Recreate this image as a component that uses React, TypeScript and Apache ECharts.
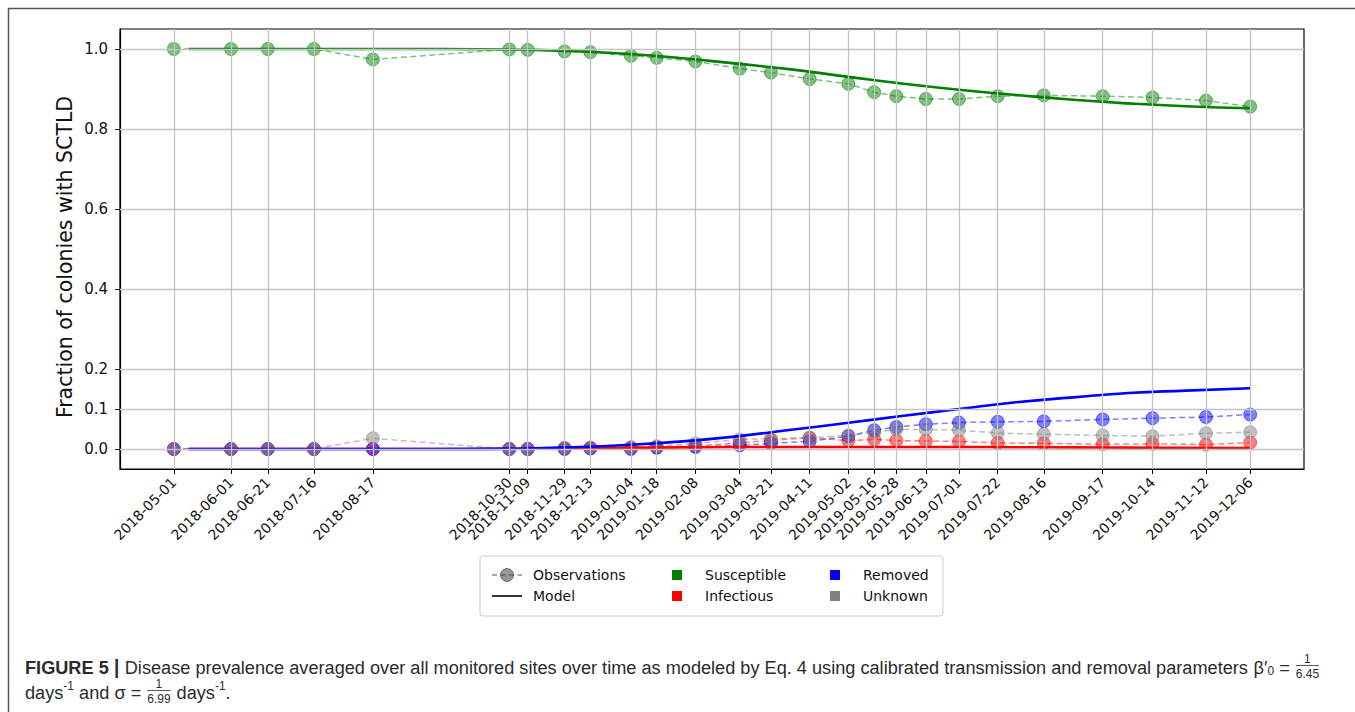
import React, { useEffect, useRef } from "react";
import * as echarts from "echarts";

// Survey dates and averaged observed fractions per compartment
const obsDates = [
  "2018-05-01", "2018-06-01", "2018-06-21", "2018-07-16", "2018-08-17",
  "2018-10-30", "2018-11-09", "2018-11-29", "2018-12-13", "2019-01-04",
  "2019-01-18", "2019-02-08", "2019-03-04", "2019-03-21", "2019-04-11",
  "2019-05-02", "2019-05-16", "2019-05-28", "2019-06-13", "2019-07-01",
  "2019-07-22", "2019-08-16", "2019-09-17", "2019-10-14", "2019-11-12",
  "2019-12-06",
];
const obsSusceptible = [
  1.0, 1.0, 1.0, 1.0, 0.974, 0.999, 0.998, 0.994, 0.992, 0.983, 0.978, 0.969,
  0.951, 0.941, 0.925, 0.913, 0.892, 0.882, 0.875, 0.875, 0.882, 0.884, 0.882,
  0.879, 0.871, 0.856,
];
const obsInfectious = [
  0, 0, 0, 0, 0, 0, 0, 0.002, 0.003, 0.003, 0.005, 0.008, 0.015, 0.022, 0.028,
  0.021, 0.024, 0.021, 0.02, 0.019, 0.015, 0.014, 0.012, 0.013, 0.011, 0.016,
];
const obsRemoved = [
  0, 0, 0, 0, 0, 0, 0, 0, 0.001, 0, 0.003, 0.005, 0.009, 0.014, 0.019, 0.032,
  0.047, 0.055, 0.062, 0.066, 0.068, 0.069, 0.074, 0.077, 0.08, 0.086,
];
const obsUnknown = [
  0, 0, 0, 0, 0.027, 0, 0, 0.003, 0.004, 0.005, 0.007, 0.014, 0.024, 0.026,
  0.028, 0.034, 0.042, 0.049, 0.049, 0.047, 0.04, 0.037, 0.034, 0.032, 0.039,
  0.042,
];

// SIR-type model trajectory
const modelDates = [
  "2018-05-09", "2018-07-01", "2018-09-01", "2018-10-15", "2018-11-09",
  "2018-12-01", "2019-01-01", "2019-02-01", "2019-03-01", "2019-04-01",
  "2019-05-01", "2019-06-01", "2019-07-01", "2019-08-01", "2019-09-01",
  "2019-10-01", "2019-11-01", "2019-12-06",
];
const modelSusceptible = [
  1.0, 1.0, 1.0, 0.9995, 0.998, 0.995, 0.988, 0.977, 0.964, 0.949, 0.931,
  0.913, 0.898, 0.885, 0.873, 0.864, 0.857, 0.852,
];
const modelInfectious = [
  0, 0, 0, 0.0003, 0.001, 0.002, 0.003, 0.004, 0.005, 0.005, 0.005, 0.005,
  0.005, 0.0045, 0.004, 0.0035, 0.003, 0.0025,
];
const modelRemoved = [
  0, 0, 0, 0.0003, 0.0015, 0.004, 0.01, 0.019, 0.031, 0.048, 0.065, 0.083,
  0.1, 0.117, 0.129, 0.14, 0.146, 0.152,
];

const yTicks = [0.0, 0.1, 0.2, 0.4, 0.6, 0.8, 1.0];

const ts = (d: string) => {
  const [y, m, dd] = d.split("-").map(Number);
  return Date.UTC(y, m - 1, dd);
};
const fmtDate = (v: number) => {
  const d = new Date(v);
  const p = (n: number) => String(n).padStart(2, "0");
  return `${d.getUTCFullYear()}-${p(d.getUTCMonth() + 1)}-${p(d.getUTCDate())}`;
};

const CAPTION_FONT = '"Liberation Sans", Arial, sans-serif';
const CAPTION_COLOR = "#2b2b2b";

function measure(text: string, size: number, weight = "normal") {
  const ctx = document.createElement("canvas").getContext("2d")!;
  ctx.font = `${weight} ${size}px "Liberation Sans"`;
  return ctx.measureText(text).width;
}

type Seg =
  | { kind: "text"; text: string; size: number; weight?: string; dy?: number }
  | { kind: "frac"; num: string; den: string; size: number };

function segWidth(s: Seg) {
  if (s.kind === "text") return measure(s.text, s.size, s.weight || "normal");
  return Math.max(measure(s.num, s.size), measure(s.den, s.size)) + 2;
}

function buildCaption(): any[] {
  const main = 19;
  const small = 12.5;
  const line1: Seg[] = [
    { kind: "text", text: "FIGURE 5", size: main, weight: "bold" },
    { kind: "text", text: " | ", size: main + 1, weight: "bold" },
    {
      kind: "text",
      text:
        "Disease prevalence averaged over all monitored sites over time as modeled by Eq. 4 using calibrated transmission and removal parameters ",
      size: main,
    },
    { kind: "text", text: "β′", size: main },
    { kind: "text", text: "0", size: small, dy: 4 },
    { kind: "text", text: " = ", size: main },
    { kind: "frac", num: "1", den: "6.45", size: small },
  ];
  const line2: Seg[] = [
    { kind: "text", text: "days", size: main },
    { kind: "text", text: "-1", size: small, dy: -6 },
    { kind: "text", text: " and σ = ", size: main },
    { kind: "frac", num: "1", den: "6.99", size: small },
    { kind: "text", text: " days", size: main },
    { kind: "text", text: "-1", size: small, dy: -6 },
    { kind: "text", text: ".", size: main },
  ];
  const x0 = 25;
  const w1 = line1.reduce((a, s) => a + segWidth(s), 0);
  const sx = (1320 - x0) / w1;
  const out: any[] = [];
  const place = (segs: Seg[], cy: number) => {
    let x = x0;
    segs.forEach((s) => {
      const w = segWidth(s) * sx;
      if (s.kind === "text") {
        out.push({
          type: "text",
          x,
          y: cy + (s.dy || 0),
          scaleX: sx,
          silent: true,
          style: {
            text: s.text,
            fontSize: s.size,
            fontWeight: s.weight || "normal",
            fontFamily: CAPTION_FONT,
            fill: CAPTION_COLOR,
            textAlign: "left",
            textVerticalAlign: "middle",
          },
        });
      } else {
        const cx = x + w / 2;
        out.push({
          type: "text",
          x: cx,
          y: cy - 8,
          scaleX: sx,
          silent: true,
          style: {
            text: s.num,
            fontSize: s.size,
            fontFamily: CAPTION_FONT,
            fill: CAPTION_COLOR,
            textAlign: "center",
            textVerticalAlign: "middle",
          },
        });
        out.push({
          type: "line",
          silent: true,
          shape: { x1: x + 1, y1: cy - 1.5, x2: x + w - 1, y2: cy - 1.5 },
          style: { stroke: CAPTION_COLOR, lineWidth: 0.8 },
        });
        out.push({
          type: "text",
          x: cx,
          y: cy + 6.5,
          scaleX: sx,
          silent: true,
          style: {
            text: s.den,
            fontSize: s.size,
            fontFamily: CAPTION_FONT,
            fill: CAPTION_COLOR,
            textAlign: "center",
            textVerticalAlign: "middle",
          },
        });
      }
      x += w;
    });
  };
  place(line1, 667);
  place(line2, 692);
  return out;
}

const LEGEND_FONT = "DejaVu Sans";

function buildLegend(): any[] {
  const r1 = 575;
  const r2 = 596;
  const txt = (x: number, y: number, t: string) => ({
    type: "text",
    x,
    y,
    silent: true,
    style: {
      text: t,
      fontSize: 14,
      fontFamily: LEGEND_FONT,
      fill: "#111",
      textAlign: "left",
      textVerticalAlign: "middle",
    },
  });
  const sq = (cx: number, cy: number, c: string) => ({
    type: "rect",
    silent: true,
    shape: { x: cx - 5, y: cy - 5, width: 10, height: 10 },
    style: { fill: c },
  });
  return [
    {
      type: "rect",
      silent: true,
      shape: { x: 480, y: 556, width: 463, height: 60, r: 3 },
      style: { fill: "rgba(255,255,255,0.85)", stroke: "#cccccc", lineWidth: 1 },
    },
    {
      type: "line",
      silent: true,
      shape: { x1: 492, y1: r1, x2: 522, y2: r1 },
      style: { stroke: "rgba(64,64,64,0.6)", lineWidth: 1.5, lineDash: [5, 3.5] },
    },
    {
      type: "circle",
      silent: true,
      shape: { cx: 507, cy: r1, r: 6.5 },
      style: { fill: "rgba(64,64,64,0.55)", stroke: "rgba(64,64,64,0.6)", lineWidth: 1 },
    },
    txt(533, r1, "Observations"),
    {
      type: "line",
      silent: true,
      shape: { x1: 492, y1: r2, x2: 522, y2: r2 },
      style: { stroke: "#000", lineWidth: 1.6 },
    },
    txt(533, r2, "Model"),
    sq(677, r1, "#008000"),
    txt(705, r1, "Susceptible"),
    sq(677, r2, "#ff0000"),
    txt(705, r2, "Infectious"),
    sq(835, r1, "#0000ff"),
    txt(863, r1, "Removed"),
    sq(835, r2, "#808080"),
    txt(863, r2, "Unknown"),
  ];
}

function obsSeries(name: string, values: number[], rgb: string, z: number) {
  return {
    name,
    type: "line",
    z,
    data: obsDates.map((d, i) => [ts(d), values[i]]),
    symbol: "circle",
    symbolSize: 13,
    showSymbol: true,
    lineStyle: { color: `rgba(${rgb},0.5)`, width: 1.5, type: [6, 3.5] },
    itemStyle: {
      color: `rgba(${rgb},0.5)`,
      borderColor: `rgba(${rgb},0.5)`,
      borderWidth: 1,
      opacity: 1,
    },
    emphasis: { disabled: true },
    silent: true,
  };
}

function modelSeries(name: string, values: number[], color: string, z: number) {
  return {
    name,
    type: "line",
    z,
    data: modelDates.map((d, i) => [ts(d), values[i]]),
    showSymbol: false,
    symbol: "none",
    smooth: 0.5,
    lineStyle: { color, width: 2.6 },
    emphasis: { disabled: true },
    silent: true,
  };
}

export default function App() {
  const ref = useRef<HTMLDivElement>(null);

  useEffect(() => {
    document.body.style.margin = "0";
    const chart = echarts.init(ref.current!, null, { renderer: "svg" });
    const xs = obsDates.map(ts);
    const span = xs[xs.length - 1] - xs[0];
    const pad = span * 0.05;

    chart.setOption({
      animation: false,
      backgroundColor: "#ffffff",
      grid: {
        left: 120,
        top: 29,
        width: 1184,
        height: 440,
        show: true,
        borderColor: "#000",
        borderWidth: 1.2,
        backgroundColor: "transparent",
      },
      xAxis: {
        // dates are plotted as UTC timestamps on a linear axis
        type: "value",
        min: xs[0] - pad,
        max: xs[xs.length - 1] + pad,
        axisLine: { show: true, onZero: false, lineStyle: { color: "#000", width: 1.2 } },
        axisTick: {
          show: true,
          length: 5,
          customValues: xs,
          lineStyle: { color: "#000", width: 1 },
        },
        axisLabel: {
          customValues: xs,
          rotate: 45,
          margin: 11,
          fontSize: 14,
          fontFamily: "DejaVu Sans",
          color: "#111",
          formatter: (v: number) => fmtDate(v),
        },
        splitLine: { show: false },
      },
      yAxis: {
        type: "value",
        min: -0.05,
        max: 1.05,
        axisLine: { show: true, onZero: false, lineStyle: { color: "#000", width: 1.2 } },
        axisTick: {
          show: true,
          length: 5,
          customValues: yTicks,
          lineStyle: { color: "#000", width: 1 },
        },
        axisLabel: {
          customValues: yTicks,
          margin: 12,
          fontSize: 15,
          fontFamily: "DejaVu Sans",
          color: "#111",
          formatter: (v: number) => v.toFixed(1),
        },
        splitLine: { show: false },
      },
      series: [
        {
          name: "grid",
          type: "line",
          z: 0,
          data: [],
          silent: true,
          markLine: {
            silent: true,
            symbol: ["none", "none"],
            label: { show: false },
            emphasis: { disabled: true },
            lineStyle: { color: "#c4c4c4", width: 1.3, type: "solid" },
            data: [
              ...xs.map((t) => ({ xAxis: t })),
              ...yTicks.map((v) => ({ yAxis: v })),
            ],
          },
        },
        obsSeries("Susceptible", obsSusceptible, "0,128,0", 2),
        obsSeries("Infectious", obsInfectious, "255,0,0", 2),
        obsSeries("Removed", obsRemoved, "0,0,255", 2),
        obsSeries("Unknown", obsUnknown, "128,128,128", 2),
        modelSeries("Susceptible model", modelSusceptible, "#008000", 3),
        modelSeries("Infectious model", modelInfectious, "#ff0000", 3),
        modelSeries("Removed model", modelRemoved, "#0000ff", 3),
      ],
      graphic: [
        {
          type: "polyline",
          silent: true,
          shape: { points: [[8.5, 712], [8.5, 8.5], [1355, 8.5]] },
          style: { stroke: "#555", lineWidth: 1.5, fill: "none" },
        },
        {
          // y-axis title
          type: "text",
          x: 65,
          y: 257,
          rotation: Math.PI / 2,
          silent: true,
          style: {
            text: "Fraction of colonies with SCTLD",
            fontSize: 20.5,
            fontFamily: "DejaVu Sans",
            fill: "#111",
            textAlign: "center",
            textVerticalAlign: "middle",
          },
        },
        ...buildLegend(),
        ...buildCaption(),
      ],
    });

    return () => chart.dispose();
  }, []);

  return <div ref={ref} style={{ width: 1355, height: 712 }} />;
}
